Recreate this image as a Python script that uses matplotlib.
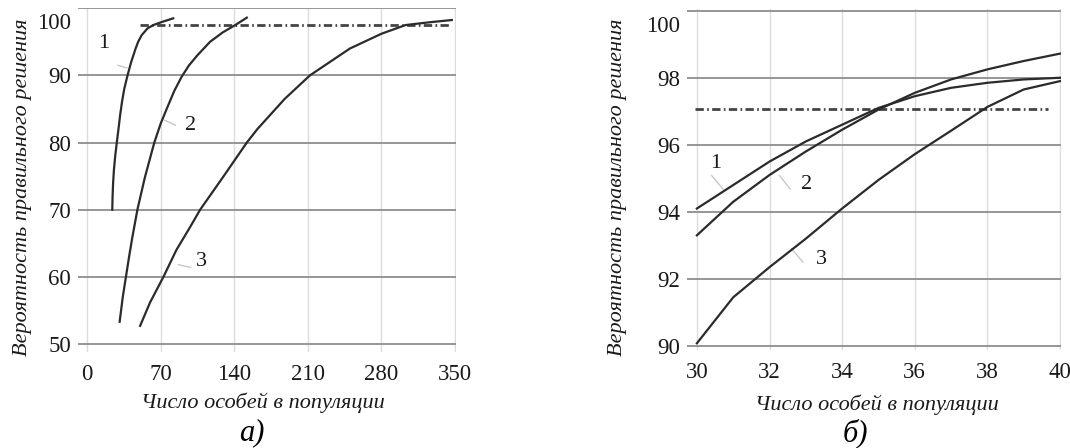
import matplotlib
matplotlib.use("Agg")
import matplotlib.pyplot as plt
import matplotlib.transforms as mtransforms

plt.rcParams['font.family'] = ['Liberation Serif', 'DejaVu Serif']

# panel a) - population size 0..350
a_x1 = [24, 24.3, 24.8, 25.6, 26.8, 28.3, 29.9, 31.4, 33.2, 35.4, 38.5, 42, 46.2, 48.6, 52, 57.5, 63, 72, 82]
a_y1 = [70, 72, 74, 76, 78, 80, 82, 84, 86, 88, 90, 92, 94, 95, 96, 97, 97.5, 98, 98.5]
a_x2 = [31, 34, 37, 40, 43, 47.9, 55, 64, 70, 76, 83, 90, 97, 105, 117, 129, 141, 152]
a_y2 = [53.3, 57, 60, 63, 65.8, 70, 74.8, 80, 82.8, 85.1, 87.7, 89.8, 91.5, 93.0, 95.0, 96.4, 97.5, 98.6]
a_x3 = [50.5, 60, 72.7, 85, 98, 107.6, 130, 152, 162, 188, 212, 250, 280, 303, 325, 347]
a_y3 = [52.7, 56.2, 60, 64, 67.4, 70, 75, 80, 82, 86.5, 90, 94, 96.2, 97.5, 97.9, 98.25]
a_level = 97.5
a_level_x = [50.5, 345]
a_xticks = [0, 70, 140, 210, 280, 350]
a_yticks = [50, 60, 70, 80, 90, 100]

# panel б) - population size 30..40
b_x = [30, 31, 32, 33, 34, 35, 36, 37, 38, 39, 40]
b_y1 = [94.1, 94.8, 95.5, 96.1, 96.6, 97.1, 97.45, 97.7, 97.85, 97.95, 98.0]
b_y2 = [93.3, 94.3, 95.1, 95.8, 96.45, 97.05, 97.55, 97.95, 98.25, 98.5, 98.72]
b_y3 = [90.08, 91.45, 92.35, 93.2, 94.1, 94.95, 95.72, 96.42, 97.13, 97.65, 97.9]
b_level = 97.08
b_level_x = [29.95, 39.68]
b_xticks = [30, 32, 34, 36, 38, 40]
b_yticks = [90, 92, 94, 96, 98, 100]

# curve labels: (text, label pos, leader start, leader end)
a_labels = [("1", (16, 94.7), (29.5, 91.5), (38, 91.1)),
            ("2", (98.7, 82.6), (74, 83.3), (84, 82.6)),
            ("3", (108.6, 62.3), (87, 61.8), (98.6, 61.4))]
b_labels = [("1", (30.53, 95.43), (30.41, 95.08), (30.72, 94.68)),
            ("2", (33.03, 94.83), (32.28, 95.08), (32.57, 94.68)),
            ("3", (33.44, 92.57), (32.61, 92.9), (32.92, 92.5))]

ylabel = "Вероятность правильного решения"
xlabel = "Число особей в популяции"

fig = plt.figure(figsize=(10.7, 4.48), dpi=100)
ax1 = fig.add_axes([0.0729, 0.2143, 0.3533, 0.768])
ax2 = fig.add_axes([0.6418, 0.2188, 0.3495, 0.761])

line_col = '#2b2b2b'
dash = (3, 1.2, 0.6, 1.2)


def setup(ax, xticks, yticks, xlim, ylim):
    ax.set_xlim(*xlim)
    ax.set_ylim(*ylim)
    ax.set_xticks(xticks)
    ax.set_yticks(yticks)
    for s in ax.spines.values():
        s.set_visible(False)
    ax.tick_params(length=0, labelsize=16.5, colors='#1a1a1a')
    ax.tick_params(axis='x', pad=9)
    ax.tick_params(axis='y', pad=5)
    for xv in xticks:
        ax.axvline(xv, color='#dcdcdc', lw=1, zorder=0)
    for yv in yticks:
        ax.axhline(yv, color='#8e8e8e', lw=1.3, zorder=1)


setup(ax1, a_xticks, a_yticks, (-8.6, 351), (48.8, 100.05))
ax1.plot(a_x1, a_y1, color=line_col, lw=1.6, zorder=3)
ax1.plot(a_x2, a_y2, color=line_col, lw=1.6, zorder=3)
ax1.plot(a_x3, a_y3, color=line_col, lw=1.6, zorder=3)
ax1.plot(a_level_x, [a_level, a_level], color='#444444', lw=2, dashes=dash, zorder=2)
for t, pos, p0, p1 in a_labels:
    ax1.text(pos[0], pos[1], t, fontsize=16, ha='center', va='center', color='#1a1a1a')
    ax1.plot([p0[0], p1[0]], [p0[1], p1[1]], color='#c8c8c8', lw=1, zorder=2)

setup(ax2, b_xticks, b_yticks, (29.72, 40.02), (89.88, 100.05))
ax2.plot(b_x, b_y1, color=line_col, lw=1.6, zorder=3)
ax2.plot(b_x, b_y2, color=line_col, lw=1.6, zorder=3)
ax2.plot(b_x, b_y3, color=line_col, lw=1.6, zorder=3)
ax2.plot(b_level_x, [b_level, b_level], color='#444444', lw=2, dashes=dash, zorder=2)
for t, pos, p0, p1 in b_labels:
    ax2.text(pos[0], pos[1], t, fontsize=16, ha='center', va='center', color='#1a1a1a')
    ax2.plot([p0[0], p1[0]], [p0[1], p1[1]], color='#c8c8c8', lw=1, zorder=2)

# axis titles
for ax, xc, yc in [(ax1, (0.489, -0.148), (-0.1455, 0.48)),
                   (ax2, (0.509, -0.161), (-0.184, 0.478))]:
    ax.set_xlabel(xlabel, fontsize=16, style='italic', va='center', ha='center', color='#1a1a1a')
    ax.set_ylabel(ylabel, fontsize=16, style='italic', va='center', ha='center', color='#1a1a1a')
    ax.xaxis.set_label_coords(*xc)
    ax.yaxis.set_label_coords(*yc)

fig.text(0.2355, 0.0335, "а)", fontsize=22, style='italic', ha='center', va='center')
fig.text(0.799, 0.0335, "б)", fontsize=22, style='italic', ha='center', va='center')

# the top "100" label sits a little below its gridline in the original
for ax in (ax1, ax2):
    lbl = ax.get_yticklabels()[-1]
    lbl.set_transform(lbl.get_transform() + mtransforms.ScaledTranslation(0, -0.13, fig.dpi_scale_trans))

fig.savefig("out.png", dpi=100, facecolor='white')
